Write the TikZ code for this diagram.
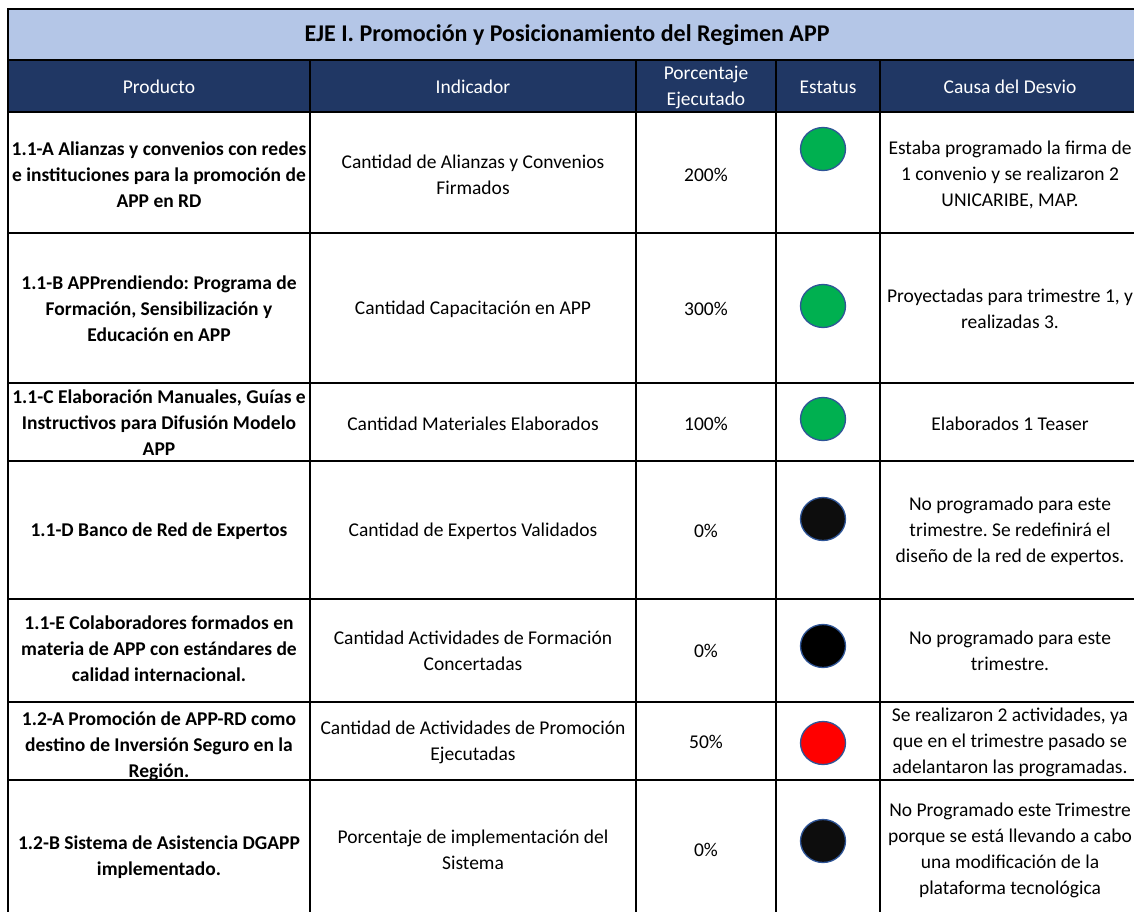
\documentclass[tikz,border=0pt]{standalone}
\usepackage{fontspec}
\setmainfont{Carlito}
\usetikzlibrary{positioning,shapes.geometric}
\definecolor{ejeblue}{HTML}{B4C6E7}
\definecolor{headnavy}{HTML}{203764}
\definecolor{dotgreen}{HTML}{00B050}
\definecolor{dotred}{HTML}{FF0000}
\definecolor{dotblack}{HTML}{0D0D0D}
\definecolor{dotrim}{HTML}{2F5597}
\frenchspacing

\begin{document}
\begin{tikzpicture}[x=1pt,y=-1pt,
    every node/.style={inner sep=0pt,align=center,font=\fontsize{19.5}{26}\selectfont},
    gridline/.style={black,line width=2.7pt},
    headtxt/.style={text=white},
    prodtxt/.style={font=\fontsize{19.5}{26}\selectfont\bfseries},
    dot/.style={ellipse,draw=dotrim,line width=1.3pt,minimum width=45pt,minimum height=43pt}
    ]
\useasboundingbox (0,0) rectangle (1134,912);
\clip (0,0) rectangle (1134,912);
\fill[white] (0,0) rectangle (1134,912);
% title and header bands
\fill[ejeblue] (8,9) rectangle (1140,60);
\fill[headnavy] (8,60) rectangle (1140,112);
% grid
\draw[gridline] (8,9) rectangle (1140,935);
\draw[gridline] (8,60) -- (1140,60);
\draw[gridline] (8,112) -- (1140,112);
\draw[gridline] (8,233) -- (1140,233);
\draw[gridline] (8,383) -- (1140,383);
\draw[gridline] (8,461) -- (1140,461);
\draw[gridline] (8,599) -- (1140,599);
\draw[gridline] (8,702) -- (1140,702);
\draw[gridline] (8,780) -- (1140,780);
\draw[gridline] (310,60) -- (310,935);
\draw[gridline] (636,60) -- (636,935);
\draw[gridline] (776,60) -- (776,935);
\draw[gridline] (880,60) -- (880,935);
%\draw[red] (1140,9) -- (1140,935);

\node[font=\fontsize{24}{28}\selectfont\bfseries] (title) at (567,35) {EJE I. Promoción y Posicionamiento del Regimen APP};
\node[headtxt] (hProducto) at (159,87) {Producto};
\node[headtxt] (hIndicador) at (473,87) {Indicador};
\node[headtxt] (hPorcentaje) at (706,87) {Porcentaje\\Ejecutado};
\node[headtxt] (hEstatus) at (828,87) {Estatus};
\node[headtxt] (hCausa) at (1010,87) {Causa del Desvio};

% row 1.1-A
\node[prodtxt] (p1) at (159,175) {1.1-A Alianzas y convenios con redes\\e instituciones para la promoción de\\APP en RD};
\node (i1) at (473,175) {Cantidad de Alianzas y Convenios\\Firmados};
\node (e1) at (706,175) {200\%};
\node[dot,fill=dotgreen] (s1) at (823,149) {};
\node (c1) at (1010,175) {Estaba programado la firma de\\1 convenio y se realizaron 2\\UNICARIBE, MAP.};
% row 1.1-B
\node[prodtxt] (p2) at (159,309) {1.1-B APPrendiendo: Programa de\\Formación, Sensibilización y\\Educación en APP};
\node (i2) at (473,309) {Cantidad Capacitación en APP};
\node (e2) at (706,309) {300\%};
\node[dot,fill=dotgreen] (s2) at (823,306) {};
\node (c2) at (1010,309) {Proyectadas para trimestre 1, y\\realizadas 3.};
% row 1.1-C
\node[prodtxt] (p3) at (159,423) {1.1-C Elaboración Manuales, Guías e\\Instructivos para Difusión Modelo\\APP};
\node (i3) at (473,424) {Cantidad Materiales Elaborados};
\node (e3) at (706,424) {100\%};
\node[dot,fill=dotgreen] (s3) at (823,419) {};
\node (c3) at (1010,424) {Elaborados 1 Teaser};
% row 1.1-D
\node[prodtxt] (p4) at (159,531) {1.1-D Banco de Red de Expertos};
\node (i4) at (473,531) {Cantidad de Expertos Validados};
\node (e4) at (706,531) {0\%};
\node[dot,fill=dotblack] (s4) at (823,519) {};
\node (c4) at (1010,531) {No programado para este\\trimestre. Se redefinirá el\\diseño de la red de expertos.};
% row 1.1-E
\node[prodtxt] (p5) at (159,649) {1.1-E Colaboradores formados en\\materia de APP con estándares de\\calidad internacional.};
\node (i5) at (473,651) {Cantidad Actividades de Formación\\Concertadas};
\node (e5) at (706,651) {0\%};
\node[dot,fill=black] (s5) at (823,646) {};
\node (c5) at (1010,651) {No programado para este\\trimestre.};
% row 1.2-A
\node[prodtxt] (p6) at (159,746) {1.2-A Promoción de APP-RD como\\destino de Inversión Seguro en la\\Región.};
\node (i6) at (473,742) {Cantidad de Actividades de Promoción\\Ejecutadas};
\node (e6) at (706,742) {50\%};
\node[dot,fill=dotred] (s6) at (823,743) {};
\node (c6) at (1010,742) {Se realizaron 2 actividades, ya\\que en el trimestre pasado se\\adelantaron las programadas.};
% row 1.2-B
\node[prodtxt] (p7) at (159,857) {1.2-B Sistema de Asistencia DGAPP\\implementado.};
\node (i7) at (473,850) {Porcentaje de implementación del\\Sistema};
\node (e7) at (706,850) {0\%};
\node[dot,fill=dotblack] (s7) at (823,841) {};
\node (c7) at (1010,850) {No Programado este Trimestre\\porque se está llevando a cabo\\una modificación de la\\plataforma tecnológica};
\end{tikzpicture}
\end{document}
